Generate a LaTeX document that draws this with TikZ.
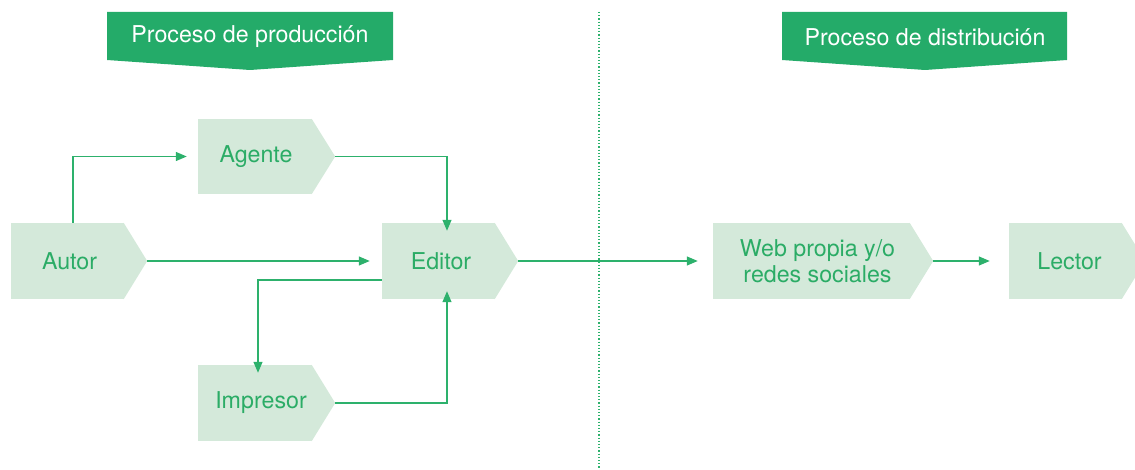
\documentclass[tikz,border=0pt]{standalone}
\usepackage{fontspec}
\setmainfont{TeX Gyre Heros}
\usetikzlibrary{arrows.meta}

\definecolor{bandgreen}{HTML}{24AB69}
\definecolor{boxfill}{HTML}{D4E9DA}
\definecolor{inkgreen}{HTML}{2BAC66}
\definecolor{linegreen}{HTML}{2DB16C}

\tikzset{
  stagebox/.style={rectangle, fill=boxfill, minimum height=76pt, inner sep=0pt,
    text=inkgreen, align=center, font=\fontsize{23.2}{26}\selectfont},
  banner/.style={text=white, font=\fontsize{23.2}{26}\selectfont, inner sep=0pt},
  flow/.style={draw=linegreen, line width=1.3pt,
    -{Triangle[length=11pt,width=9pt]}},
  divider/.style={draw=linegreen, line width=1.1pt, dash pattern=on 1.2pt off 2pt},
}

\begin{document}
\begin{tikzpicture}[x=1pt, y=-1pt]
  \useasboundingbox (0,0) rectangle (1135,470);
  \clip (0,0) rectangle (1135,470);

  % section dividing line
  \coordinate (divtop) at (599,12);
  \coordinate (divbot) at (599,470);
  \draw[divider] (divtop) -- (divbot);

  % section banners
  \fill[bandgreen] (107,12) -- (393,12) -- (393,60) -- (250,70) -- (107,60) -- cycle;
  \node[banner] (prod) at (250,37) {Proceso de producción};
  \fill[bandgreen] (782,12) -- (1067,12) -- (1067,60) -- (925,70) -- (782,60) -- cycle;
  \node[banner] (dist) at (925,37) {Proceso de distribución};

  % stages (rectangular body; the arrow point is added below)
  \node[stagebox, minimum width=113pt] (autor)    at (67.5,261)  {\hspace*{4pt}Autor};
  \node[stagebox, minimum width=114pt, minimum height=75pt] (agente) at (255,156.5) {\hspace*{2pt}Agente};
  \node[stagebox, minimum width=113pt] (editor)   at (438.5,261) {\hspace*{5pt}Editor};
  \node[stagebox, minimum width=114pt] (impresor) at (255,403)   {\hspace*{12pt}Impresor};
  \node[stagebox, minimum width=197pt] (web)      at (811.5,261) {\hspace*{12pt}Web propia y/o\\\hspace*{12pt}redes sociales};
  \node[stagebox, minimum width=113pt] (lector)   at (1065.5,261) {\hspace*{8pt}Lector};

  \foreach \n in {autor,agente,editor,impresor,web,lector}{
    \coordinate (\n-tip) at ([xshift=23pt]\n.east);
    \fill[boxfill] ([xshift=-0.5pt]\n.north east) -- (\n-tip)
      -- ([xshift=-0.5pt]\n.south east) -- cycle;
  }

  % routing columns of the connectors
  \coordinate (colautor) at (73,0);
  \coordinate (coleditor) at (447,0);
  \coordinate (colprint) at (258,0);

  % connectors
  \draw[flow] (autor.north -| colautor) |- ([xshift=-11pt]agente.west);
  \draw[flow] (agente-tip) -| ([yshift=-8pt]editor.north -| coleditor);
  \draw[flow] (autor-tip) -- ([xshift=-12pt]editor.west);
  \draw[flow] ([yshift=-19pt]editor.west) -| ([yshift=-8pt]impresor.north -| colprint);
  \draw[flow] (impresor-tip) -| ([yshift=8pt]editor.south -| coleditor);
  \draw[flow] (editor-tip) -- ([xshift=-15pt]web.west);
  \draw[flow] (web-tip) -- ([xshift=-19pt]lector.west);
\end{tikzpicture}
\end{document}
